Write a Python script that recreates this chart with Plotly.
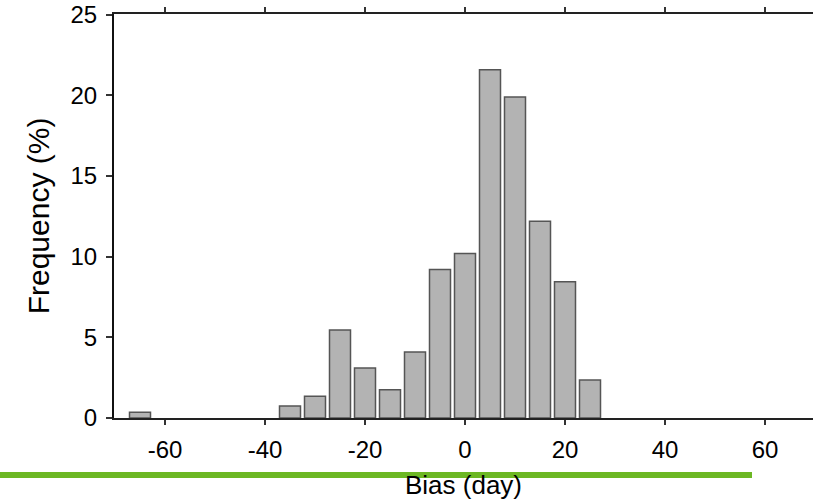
import plotly.graph_objects as go

bin_centers = [-65, -35, -30, -25, -20, -15, -10, -5, 0, 5, 10, 15, 20, 25]
frequency = [0.35, 0.75, 1.35, 5.45, 3.1, 1.75, 4.1, 9.2, 10.2, 21.6, 19.9, 12.2, 8.45, 2.35]
x_ticks = [-60, -40, -20, 0, 20, 40, 60]
x_tick_labels = ["-60", "-40", "-20", "0", "20", "40", "60"]
y_ticks = [0, 5, 10, 15, 20, 25]

fig = go.Figure(go.Bar(
    x=bin_centers, y=frequency, width=4.2,
    marker=dict(color="#b3b3b3", line=dict(color="#555555", width=1.5)),
))

font = "Liberation Sans, Arial, sans-serif"
fig.update_layout(
    width=813, height=504,
    margin=dict(l=114, r=0, t=14, b=86, autoexpand=False),
    plot_bgcolor="white", paper_bgcolor="white",
    showlegend=False,
    font=dict(family=font, size=24, color="black"),
    xaxis=dict(
        range=[-70.2, 69.6], tickvals=x_ticks, ticktext=x_tick_labels,
        ticks="outside", ticklen=5, tickwidth=2,
        tickcolor="#333333", showline=True, linecolor="#222222", linewidth=2, mirror="ticks",
        showgrid=False, zeroline=False, ticklabelstandoff=4,
        title=dict(text="Bias (day)", font=dict(size=26), standoff=14),
    ),
    yaxis=dict(
        range=[0, 25.05], tickvals=y_ticks, ticks="outside", ticklen=6, tickwidth=2,
        tickcolor="#333333", showline=True, linecolor="#111111", linewidth=2,
        showgrid=False, zeroline=False, ticklabelstandoff=4,
        title=dict(text="Frequency (%)", font=dict(size=30), standoff=12),
    ),
    shapes=[dict(
        type="line", xref="paper", yref="paper",
        x0=-114/699, x1=(752-114)/699, y0=(418-475)/404, y1=(418-475)/404,
        line=dict(color="#6cb723", width=6),
    )],
)

fig.write_html("out.html", config={"displayModeBar": False},
               post_script="document.body.style.margin='0';document.body.style.padding='0';")
